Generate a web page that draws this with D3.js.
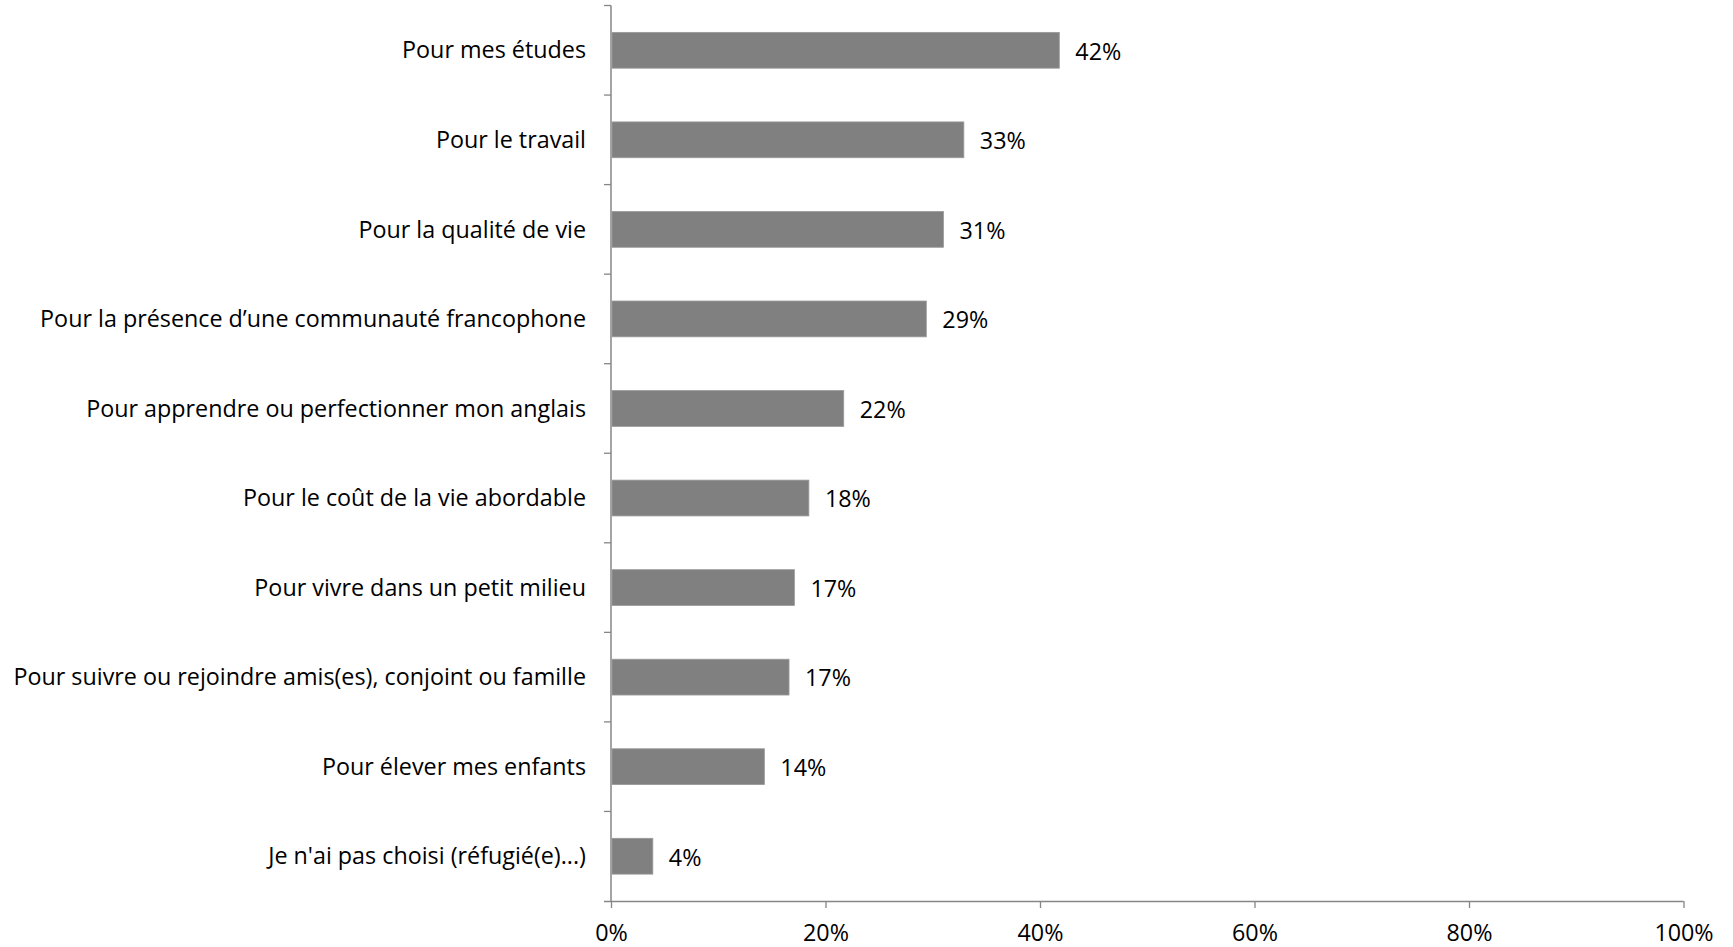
<!DOCTYPE html>
<html>
<head>
<meta charset="utf-8">
<script src="https://cdn.jsdelivr.net/npm/d3@7"></script>
<style>
  body { margin: 0; background: #fff; }
  text { font-family: "Open Sans", Lato, sans-serif; fill: #000; }
</style>
</head>
<body>
<div id="viz"></div>
<script>
const categories = [
    "Pour mes études",
    "Pour le travail",
    "Pour la qualité de vie",
    "Pour la présence d\u2019une communauté francophone",
    "Pour apprendre ou perfectionner mon anglais",
    "Pour le coût de la vie abordable",
    "Pour vivre dans un petit milieu",
    "Pour suivre ou rejoindre amis(es), conjoint ou famille",
    "Pour élever mes enfants",
    "Je n'ai pas choisi (réfugié(e)...)"
];
const values = [41.8, 32.9, 31.0, 29.4, 21.7, 18.45, 17.1, 16.6, 14.3, 3.9];
const xTicks = [0, 20, 40, 60, 80, 100];

const width = 1733;
const height = 947;
const margin = { left: 611, right: 50, top: 5.5, bottom: 46 };
const axisColor = "#868686";
const barColor = "#808080";
const labelWidth = 573; // width of the longest label in the reference

const svg = d3.select("#viz").append("svg")
    .attr("width", width)
    .attr("height", height);

// pick a font size so the longest label has the reference width
const probe = svg.append("text").style("font-size", "20px")
    .text(categories[7]);
const fontSize = 20 * labelWidth / probe.node().getComputedTextLength();
probe.remove();

const xScale = d3.scaleLinear()
    .domain([0, 100])
    .range([margin.left, 1683.5]);

const yScale = d3.scaleBand()
    .domain(categories)
    .range([margin.top, height - margin.bottom])
    .paddingInner(0.6)
    .paddingOuter(0.3);

const step = yScale.step();
const yBottom = height - margin.bottom;

// x axis
const xAxis = svg.append("g")
    .attr("transform", `translate(0,${yBottom})`)
    .call(d3.axisBottom(xScale).tickValues(xTicks).tickSize(7).tickSizeOuter(0).tickFormat(d => d + "%"));
xAxis.select(".domain").attr("stroke", axisColor).attr("stroke-width", 1.5)
    .attr("d", `M${margin.left - 7},0.5H${xScale(100)}`);
xAxis.selectAll(".tick line").attr("stroke", axisColor).attr("stroke-width", 1.3);
xAxis.selectAll(".tick text")
    .attr("y", 40)
    .attr("dy", 0)
    .style("font-size", fontSize + "px")
    .style("font-family", "\"Open Sans\", sans-serif")
    .attr("fill", "#000");

// y axis line and ticks
svg.append("line")
    .attr("x1", margin.left).attr("x2", margin.left)
    .attr("y1", margin.top).attr("y2", yBottom)
    .attr("stroke", axisColor).attr("stroke-width", 1.5);

svg.selectAll(".y-tick")
    .data(d3.range(categories.length))
    .join("line")
        .attr("class", "y-tick")
        .attr("x1", margin.left - 7).attr("x2", margin.left)
        .attr("y1", i => margin.top + i * step)
        .attr("y2", i => margin.top + i * step)
        .attr("stroke", axisColor).attr("stroke-width", 1.3);

// bars
svg.selectAll(".bar")
    .data(categories)
    .join("rect")
        .attr("class", "bar")
        .attr("x", xScale(0) + 1)
        .attr("y", d => yScale(d))
        .attr("width", (d, i) => xScale(values[i]) - xScale(0) - 1)
        .attr("height", yScale.bandwidth())
        .attr("fill", barColor)
        .attr("stroke", "#9a9a9a")
        .attr("stroke-width", 0.8);

// category labels
svg.selectAll(".cat-label")
    .data(categories)
    .join("text")
        .attr("class", "cat-label")
        .attr("x", margin.left - 25)
        .attr("y", d => yScale(d) + yScale.bandwidth() / 2)
        .attr("dy", "0.35em")
        .style("text-anchor", "end")
        .style("font-size", fontSize + "px")
        .text(d => d);

// value labels
svg.selectAll(".val-label")
    .data(values)
    .join("text")
        .attr("class", "val-label")
        .attr("x", d => xScale(d) + 16)
        .attr("y", (d, i) => yScale(categories[i]) + yScale.bandwidth() / 2)
        .attr("dy", "0.4em")
        .style("font-size", fontSize + "px")
        .text(d => Math.round(d) + "%");
</script>
</body>
</html>
